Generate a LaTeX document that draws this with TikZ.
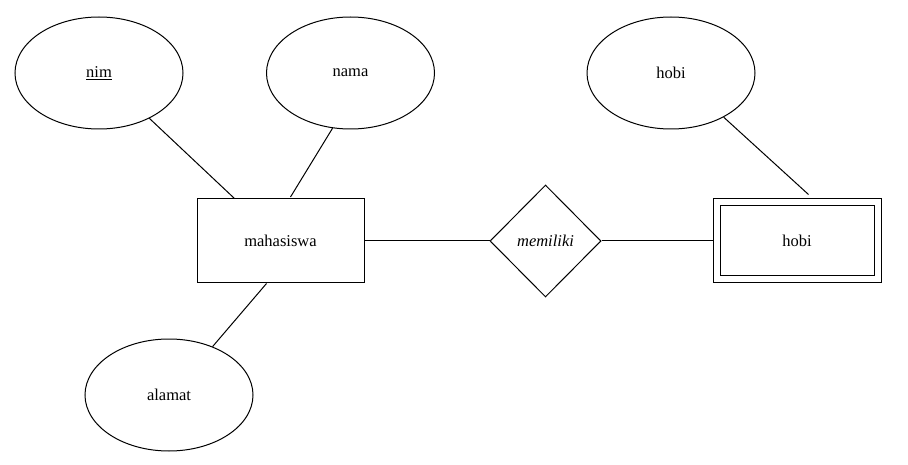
\documentclass[tikz,border=0pt]{standalone}
\usepackage{fontspec}
\setmainfont{Liberation Serif}
\usetikzlibrary{shapes.geometric,calc}
\begin{document}
\begin{tikzpicture}[x=1pt,y=-1pt,
  every node/.style={font=\fontsize{16.5}{19}\selectfont, inner sep=0pt},
  attr/.style={draw, ellipse, minimum width=168pt, minimum height=112pt},
  entity/.style={draw, rectangle, minimum width=167pt, minimum height=84pt},
  relation/.style={draw, diamond, minimum width=111pt, minimum height=112pt},
  link/.style={draw, line width=1pt},
  line width=1pt]
\useasboundingbox (0,0) rectangle (908,465);
\node[attr] (nim) at (99,73) {\underline{nim}};
\node[attr] (nama) at (350.5,73) {nama};
\node[attr] (hobiA) at (671,73) {hobi};
\node[attr] (alamat) at (169,395) {alamat};
\node[entity] (mhs) at (280.5,241) {mahasiswa};
\node[relation] (rel) at (545.5,241) {\itshape memiliki};
\node[draw, rectangle, minimum width=168pt, minimum height=84pt] (hobiE) at (797,241) {};
\node[draw, rectangle, minimum width=154pt, minimum height=70pt] (hobiIn) at (797,241) {hobi};
\coordinate (gap) at ($(hobiE.north west)+(96,-4)$);
\draw[link] (nim.-42.6) -- ($(mhs.north west)+(38,0)$);
\draw[link] (nama.-108.3) -- ($(mhs.north west)+(94,-1.5)$);
\draw[link] (alamat.48.7) -- ($(mhs.south west)+(70,0)$);
\draw[link] (hobiA.-40.8) -- (gap);
\draw[link] (mhs.east) -- (rel.west);
\draw[link] (rel.east) -- (hobiE.west);
\end{tikzpicture}
\end{document}
